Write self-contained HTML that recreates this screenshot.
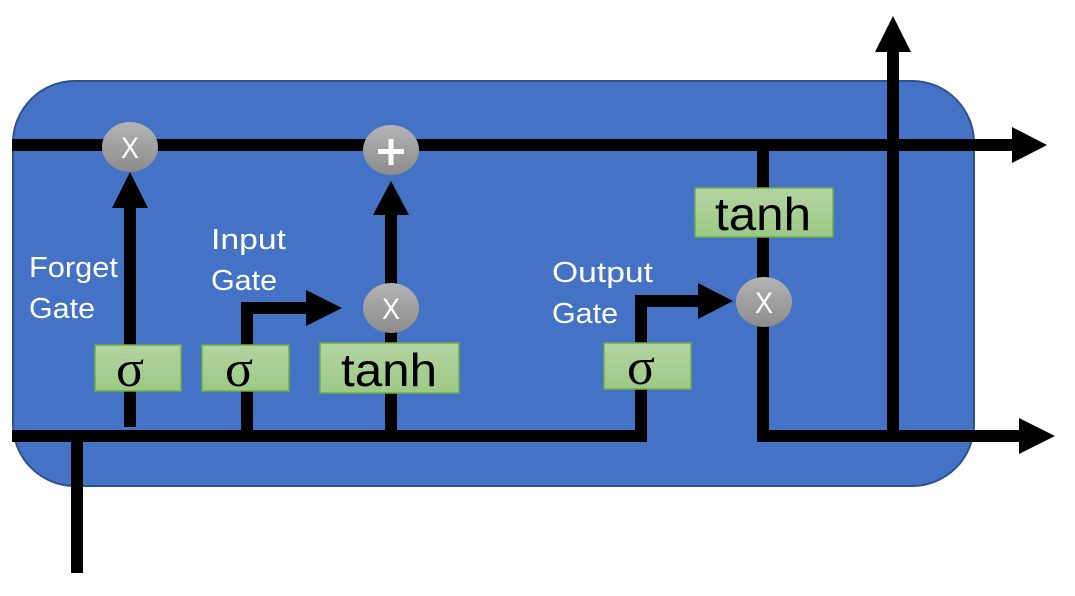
<!DOCTYPE html>
<html><head><meta charset="utf-8"><style>
html,body{margin:0;padding:0;background:#fff;}
svg{display:block;}
</style></head><body>
<svg width="1075" height="596" viewBox="0 0 1075 596" xmlns="http://www.w3.org/2000/svg">
<defs>
<linearGradient id="g" x1="0" y1="0" x2="0" y2="1"><stop offset="0" stop-color="#b3d5a1"/><stop offset="1" stop-color="#9cc986"/></linearGradient>
<linearGradient id="c" x1="0" y1="0" x2="0" y2="1"><stop offset="0" stop-color="#b4b4b4"/><stop offset="1" stop-color="#8c8c8c"/></linearGradient>
</defs>
<rect x="13" y="81" width="961" height="405" rx="62" ry="62" fill="#4472C4" stroke="#2F528F" stroke-width="2"/>
<g fill="#000">
<rect x="12" y="139" width="1002" height="12"/>
<polygon points="1012,127 1047,145 1012,163"/>
<rect x="12" y="430" width="635" height="12"/>
<rect x="635" y="295" width="12" height="147"/>
<rect x="635" y="295" width="65" height="12"/>
<polygon points="698,283 733,301 698,319"/>
<rect x="71" y="430" width="12" height="143"/>
<rect x="124" y="205" width="12" height="222"/>
<polygon points="112,208 130,172 148,208"/>
<rect x="241" y="302" width="12" height="134"/>
<rect x="241" y="302" width="70" height="12"/>
<polygon points="306,290 342,308 306,326"/>
<rect x="385" y="212" width="12" height="224"/>
<polygon points="373,215 391,181 409,215"/>
<rect x="757" y="150" width="12" height="292"/>
<rect x="757" y="430" width="265" height="12"/>
<polygon points="1019,418 1055,436 1019,454"/>
<rect x="887" y="50" width="12" height="386"/>
<polygon points="875,52 893,16 911,52"/>
</g>
<g stroke="#70AD47" stroke-width="1.5" fill="url(#g)">
<rect x="95" y="345" width="86" height="46"/>
<rect x="202" y="345" width="87" height="46"/>
<rect x="320" y="343" width="139" height="50"/>
<rect x="604" y="343" width="87" height="46"/>
<rect x="695" y="188" width="138" height="49"/>
</g>
<g font-family="Liberation Serif, serif" font-size="52" fill="#000" text-anchor="middle">
<text x="130" y="386">σ</text>
<text x="239" y="386">σ</text>
<text x="641" y="384">σ</text>
</g>
<g font-family="Liberation Sans, sans-serif" font-size="46" fill="#000" text-anchor="middle">
<text x="389" y="386" textLength="96" lengthAdjust="spacingAndGlyphs">tanh</text>
<text x="763" y="230" textLength="96" lengthAdjust="spacingAndGlyphs">tanh</text>
</g>
<g fill="url(#c)">
<ellipse cx="130" cy="147" rx="28" ry="25"/>
<ellipse cx="391" cy="150" rx="28" ry="25"/>
<ellipse cx="391" cy="308" rx="28" ry="25"/>
<ellipse cx="764" cy="302" rx="28" ry="25"/>
</g>
<g font-family="Liberation Sans, sans-serif" font-size="30" fill="#fff" text-anchor="middle">
<text x="130" y="158" textLength="18" lengthAdjust="spacingAndGlyphs">X</text>
<text x="391" y="319" textLength="18" lengthAdjust="spacingAndGlyphs">X</text>
<text x="764" y="313" textLength="18" lengthAdjust="spacingAndGlyphs">X</text>
</g>
<rect x="378" y="149" width="26" height="5" fill="#fff"/>
<rect x="388.5" y="139" width="5" height="26" fill="#fff"/>
<g font-family="Liberation Sans, sans-serif" font-size="29" fill="#fff">
<text x="29" y="277" textLength="89" lengthAdjust="spacingAndGlyphs">Forget</text>
<text x="29" y="318" textLength="66" lengthAdjust="spacingAndGlyphs">Gate</text>
<text x="211" y="249" textLength="75" lengthAdjust="spacingAndGlyphs">Input</text>
<text x="211" y="290" textLength="66" lengthAdjust="spacingAndGlyphs">Gate</text>
<text x="552" y="282" textLength="101" lengthAdjust="spacingAndGlyphs">Output</text>
<text x="552" y="323" textLength="66" lengthAdjust="spacingAndGlyphs">Gate</text>
</g>
</svg>
</body></html>
